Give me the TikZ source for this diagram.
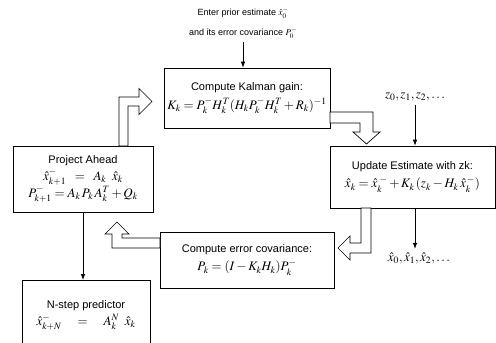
\documentclass[tikz,border=0pt]{standalone}
\usepackage{mathptmx}
\usepackage[no-math]{fontspec}
\setmainfont{Liberation Sans}
\usetikzlibrary{arrows.meta}

\tikzset{
  stepbox/.style={draw, line width=0.7pt, align=center, inner sep=2pt},
  flowline/.style={-{Latex[length=6pt,width=4.5pt]}, line width=0.7pt},
  blockarrow/.style={draw, line width=0.7pt, fill=white, line join=miter},
}
\newcommand{\boxtitle}{\fontsize{11}{13}\selectfont}
\newcommand{\boxmath}{\fontsize{13}{16}\selectfont}

\begin{document}
\begin{tikzpicture}[x=1pt, y=-1pt]
  \useasboundingbox (0,0) rectangle (496,343);
  % Prior estimate
  \node[align=center, font=\fontsize{9}{20}\selectfont] (prior) at (243,23)
    {Enter prior estimate $\hat{x}_0^-$\\and its error covariance $P_0^-$};
  % Boxes
  \node[stepbox, minimum width=166pt, minimum height=60pt] (gain) at (247,98)
    {\boxtitle Compute Kalman gain:\\[4pt]
     \boxmath $K_k = P_k^- H_k^T (H_k P_k^- H_k^T + R_k)^{-1}$};
  \node[stepbox, minimum width=165pt, minimum height=62pt] (update) at (412.5,177)
    {\boxtitle Update Estimate with zk:\\[4pt]
     \boxmath $\hat{x}_k = \hat{x}_k^{\;-} + K_k\,(z_k - H_k\,\hat{x}_k^{\,-})$};
  \node[stepbox, minimum width=140pt, minimum height=66pt] (project) at (83,179)
    {\boxtitle Project Ahead\\[2pt]
     \boxmath $\hat{x}_{k+1}^- \;\;=\;\; A_k\;\;\hat{x}_k$\\
     \boxmath $P_{k+1}^- = A_k\,P_k\,A_k^T + Q_k$};
  \node[stepbox, minimum width=174pt, minimum height=56pt] (errcov) at (247,260)
    {\boxtitle Compute error covariance:\\[4pt]
     \boxmath $P_k = (I - K_k H_k) P_k^-$};
  \node[stepbox, minimum width=128pt, minimum height=70pt, anchor=north] (nstep) at (86,280)
    {\boxtitle N-step predictor\\[3pt]
     \boxmath $\hat{x}_{k+N}^- \quad=\quad A_k^N\;\;\hat{x}_k$};
  % Measurements and estimates
  \node (zlist) at (415,97) {\boxmath $z_0, z_1, z_2, \ldots$};
  \node (xlist) at (419,258) {\boxmath $\hat{x}_0, \hat{x}_1, \hat{x}_2, \ldots$};
  % Thin arrows
  \draw[flowline] (prior.south) -- (prior.south |- gain.north);
  \draw[flowline] (zlist.south) -- (zlist.south |- update.north);
  \draw[flowline] (zlist.south |- update.south) -- (zlist.south |- xlist.north);
  \draw[flowline] (project.south) -- (project.south |- nstep.north);
  % Block arrows
  \draw[blockarrow] (119,146) -- (119,97) -- (139,97) -- (139,88.5) -- (152,101.5)
    -- (139,114.5) -- (139,106) -- (128,106) -- (128,146) -- cycle;
  \draw[blockarrow] (330,112) -- (373,112) -- (373,132) -- (380,132) -- (366.5,144)
    -- (353,132) -- (360,132) -- (360,123) -- (330,123) -- cycle;
  \draw[blockarrow] (361,208) -- (371,208) -- (371,253) -- (350,253) -- (350,260)
    -- (338,248) -- (350,236) -- (350,243) -- (361,243) -- cycle;
  \draw[blockarrow] (160,238) -- (122,238) -- (122,234) -- (129,234) -- (117,222)
    -- (105,234) -- (112,234) -- (112,248) -- (160,248) -- cycle;
\end{tikzpicture}
\end{document}
